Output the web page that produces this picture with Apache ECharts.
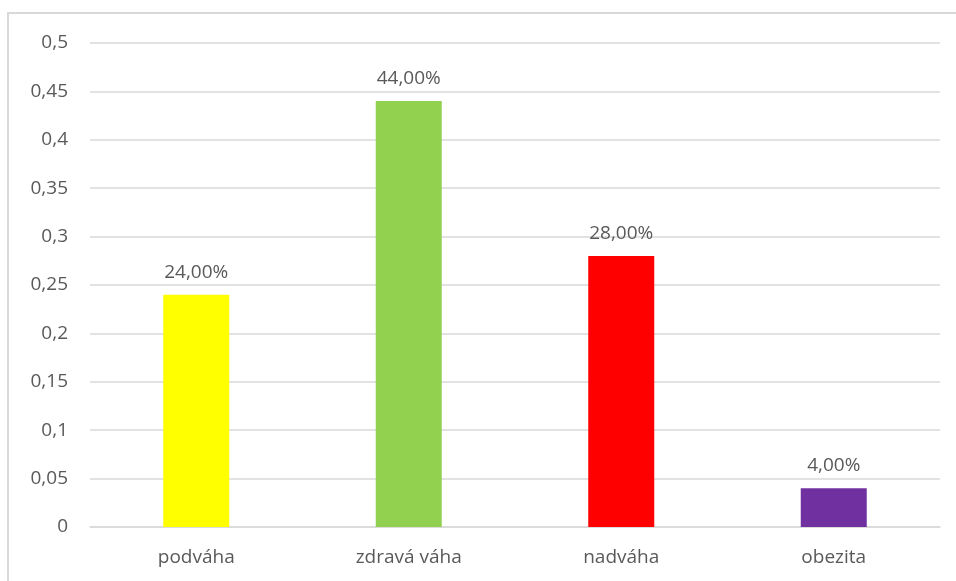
<!DOCTYPE html>
<html>
<head>
<meta charset="utf-8">
<script src="https://cdn.jsdelivr.net/npm/echarts@6/dist/echarts.min.js"></script>
<style>
  html, body { margin: 0; padding: 0; background: #fff; }
  #chart { width: 956px; height: 581px; }
</style>
</head>
<body>
<div id="chart"></div>
<script>
// categories and values
var categories = ['podváha', 'zdravá váha', 'nadváha', 'obezita'];
var values = [0.24, 0.44, 0.28, 0.04];
var barColors = ['#FFFF00', '#92D050', '#FF0000', '#7030A0'];

var textColor = '#595959';
var fontFamily = '"Open Sans", "Noto Sans", sans-serif';

function toComma(v) {
  return String(v).replace('.', ',');
}

var chart = echarts.init(document.getElementById('chart'));
var option = {
  animation: false,
  graphic: [{
    type: 'rect',
    shape: { x: 8, y: 13, width: 1000, height: 1000 },
    style: { fill: 'none', stroke: '#d9d9d9', lineWidth: 2 },
    silent: true
  }],
  grid: { left: 90, right: 16, top: 43, bottom: 54 },
  xAxis: {
    type: 'category',
    data: categories,
    axisLine: { lineStyle: { color: '#d9d9d9', width: 1.5 } },
    axisTick: { show: false },
    axisLabel: { color: textColor, fontSize: 19, fontFamily: fontFamily, margin: 21 }
  },
  yAxis: {
    type: 'value',
    min: 0,
    max: 0.5,
    interval: 0.05,
    axisLine: { show: false },
    axisTick: { show: false },
    splitLine: { lineStyle: { color: '#d9d9d9', width: 1.5 } },
    axisLabel: {
      color: textColor, fontSize: 19, fontFamily: fontFamily, margin: 22,
      formatter: function (v) { return toComma(+v.toFixed(2)); }
    }
  },
  series: [{
    type: 'bar',
    barWidth: 66,
    data: values.map(function (v, i) {
      return { value: v, itemStyle: { color: barColors[i] } };
    }),
    label: {
      show: true,
      position: 'top',
      distance: 13,
      color: textColor,
      fontSize: 19,
      fontFamily: fontFamily,
      formatter: function (p) { return (p.value * 100).toFixed(2).replace('.', ',') + '%'; }
    }
  }]
};
chart.setOption(option);
</script>
</body>
</html>
